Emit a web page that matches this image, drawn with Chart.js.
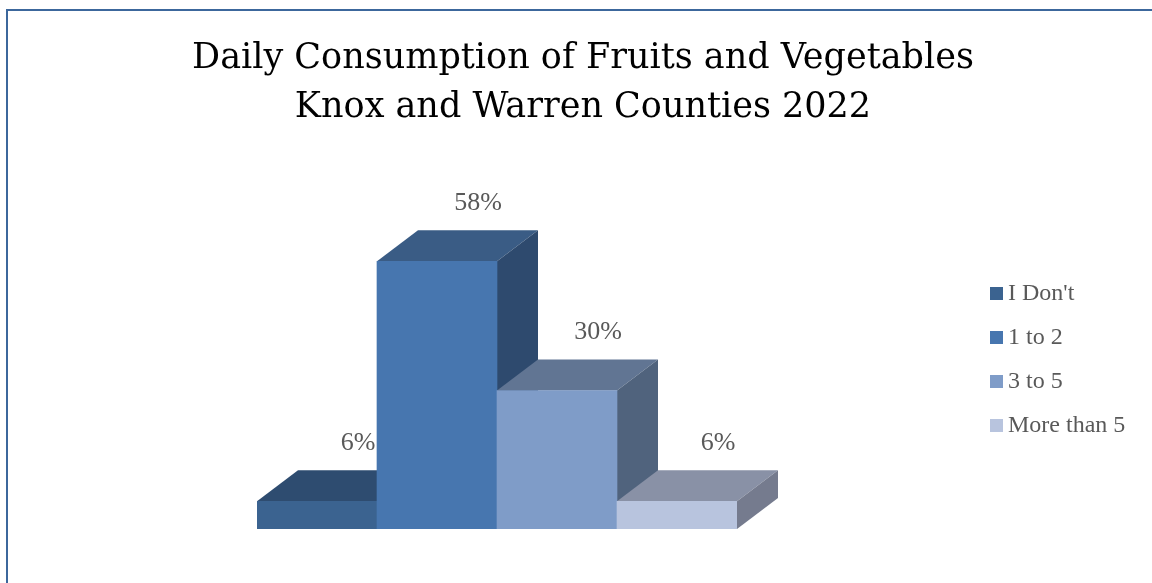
<!DOCTYPE html>
<html>

<head>
	<meta charset="UTF-8">
	<title>Daily Consumption of Fruits and Vegetables</title>
	<script src="https://cdn.jsdelivr.net/npm/chart.js@4.4.1/dist/chart.umd.min.js"></script>
	<style>
		html, body { margin: 0; padding: 0; background: #ffffff; overflow: hidden; }
		#chart-area { display: block; }
	</style>
</head>

<body>
	<canvas id="chart-area" width="1152" height="583"></canvas>
</body>

<script>
	// answers and share of respondents (%)
	var categorias = ["I Don't", '1 to 2', '3 to 5', 'More than 5'];
	var percentuais = [6, 58, 30, 6];
	var tituloLinhas = ['Daily Consumption of Fruits and Vegetables', 'Knox and Warren Counties 2022'];

	// face colours of each block: front, top, right side
	var corFrente = ['#3b6390', '#4776af', '#7f9cc8', '#b8c4de'];
	var corTopo = ['#2e4c70', '#3a5c85', '#617593', '#8991a6'];
	var corLado = ['#2a4466', '#2e4a6e', '#50637d', '#757b8e'];

	var PROF_X = 41; // depth of the blocks
	var PROF_Y = 31;
	var corTexto = '#595959';

	// frame line on the left and top
	var moldura = {
		id: 'moldura',
		beforeDraw: function (chart) {
			var ctx = chart.ctx;
			ctx.save();
			ctx.fillStyle = '#3c679c';
			ctx.fillRect(6, 9, 2, chart.height - 9);
			ctx.fillRect(6, 9, chart.width - 6, 2);
			ctx.restore();
		}
	};

	// top and side faces, drawn before the library paints the fronts
	var blocos3d = {
		id: 'blocos3d',
		beforeDatasetsDraw: function (chart) {
			var ctx = chart.ctx;
			var meta = chart.getDatasetMeta(0);
			ctx.save();
			meta.data.forEach(function (bar, i) {
				var p = bar.getProps(['x', 'y', 'base', 'width'], true);
				var l = p.x - p.width / 2, r = p.x + p.width / 2;
				// top
				ctx.fillStyle = corTopo[i];
				ctx.beginPath();
				ctx.moveTo(l, p.y);
				ctx.lineTo(r, p.y);
				ctx.lineTo(r + PROF_X, p.y - PROF_Y);
				ctx.lineTo(l + PROF_X, p.y - PROF_Y);
				ctx.closePath();
				ctx.fill();
				// right side
				ctx.fillStyle = corLado[i];
				ctx.beginPath();
				ctx.moveTo(r, p.y);
				ctx.lineTo(r + PROF_X, p.y - PROF_Y);
				ctx.lineTo(r + PROF_X, p.base - PROF_Y);
				ctx.lineTo(r, p.base);
				ctx.closePath();
				ctx.fill();
			});
			ctx.restore();
		},
		afterDatasetsDraw: function (chart) {
			var ctx = chart.ctx;
			var meta = chart.getDatasetMeta(0);
			var valores = chart.data.datasets[0].data;
			ctx.save();
			ctx.font = '26px "Liberation Serif"';
			ctx.fillStyle = corTexto;
			ctx.textAlign = 'center';
			ctx.textBaseline = 'middle';
			meta.data.forEach(function (bar, i) {
				var p = bar.getProps(['x', 'y'], true);
				ctx.fillText(valores[i] + '%', p.x + PROF_X, p.y - PROF_Y - 27);
			});
			ctx.restore();
		}
	};

	// legend column on the right
	var legenda = {
		id: 'legenda',
		afterDraw: function (chart) {
			var ctx = chart.ctx;
			var x = 990, y0 = 293, passo = 44;
			ctx.save();
			ctx.font = '24px "Liberation Serif"';
			ctx.textBaseline = 'middle';
			ctx.textAlign = 'left';
			chart.data.labels.forEach(function (rotulo, i) {
				var y = y0 + i * passo;
				ctx.fillStyle = corFrente[i];
				ctx.fillRect(x, y - 6, 13, 13);
				ctx.fillStyle = corTexto;
				ctx.fillText(rotulo, x + 18, y + 1);
			});
			ctx.restore();
		}
	};

	var config = {
		type: 'bar',
		data: {
			labels: categorias,
			datasets: [{
				label: 'Daily consumption',
				data: percentuais,
				backgroundColor: corFrente,
				borderWidth: 0,
				barPercentage: 1,
				categoryPercentage: 1
			}]
		},
		options: {
			responsive: false,
			animation: false,
			layout: {
				padding: { left: 14, right: 0, top: 0, bottom: 54 }
			},
			plugins: {
				legend: { display: false },
				tooltip: { enabled: false },
				title: {
					display: true,
					text: tituloLinhas,
					color: '#000000',
					font: { family: '"DejaVu Serif"', size: 35, weight: 'normal', lineHeight: 1.4 },
					padding: { top: 34, bottom: 0 }
				}
			},
			scales: {
				x: { display: false },
				y: {
					display: true,
					min: 0,
					max: 86,
					grid: { display: false },
					border: { display: false },
					ticks: { display: false },
					afterFit: function (scale) { scale.width = 243; }
				},
				direita: {
					position: 'right',
					display: true,
					grid: { display: false },
					border: { display: false },
					ticks: { display: false },
					afterFit: function (scale) { scale.width = 415; }
				}
			}
		},
		plugins: [moldura, blocos3d, legenda]
	};

	window.onload = function () {
		var ctx = document.getElementById('chart-area').getContext('2d');
		window.myBar = new Chart(ctx, config);
	};
</script>

</html>
